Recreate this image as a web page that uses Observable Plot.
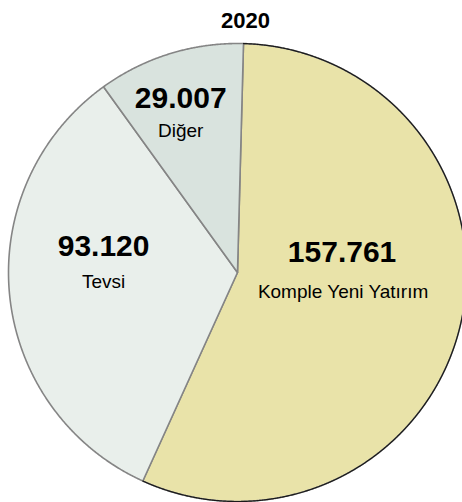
<!DOCTYPE html>
<html>
<head>
<meta charset="utf-8">
<script src="https://cdn.jsdelivr.net/npm/d3@7"></script>
<script src="https://cdn.jsdelivr.net/npm/@observablehq/plot@0.6"></script>
<style>
  html, body { margin: 0; padding: 0; background: white; }
</style>
</head>
<body>
<div id="chart"></div>
<script>
// ---- data ----
const title = "2020";
const categories = ["Komple Yeni Yatırım", "Tevsi", "Diğer"];
const values = [157761, 93120, 29007];
const valueLabels = ["157.761", "93.120", "29.007"];

// ---- styles / layout ----
const colors = ["#e9e3a9", "#e9efeb", "#d9e3de"];
const font = "'Liberation Sans', Arial, Helvetica, sans-serif";
const W = 462, H = 502, R = 229, CX = 237, CY = 272;
const startDeg = 1.5;
// label nudges (px) from slice centroid at half radius
const nudges = [
  {vdx: -7, vdy: -36, ndx: -6, ndy: 0},
  {vdx: -20, vdy: -28, ndx: -20, ndy: 4},
  {vdx: -23, vdy: -55, ndx: -23, ndy: -26}
];

const start = startDeg * Math.PI / 180;
const arcs = d3.pie().sort(null).startAngle(start).endAngle(start + 2 * Math.PI)(values);

function arcPoints(a0, a1) {
  const pts = [];
  const n = Math.max(2, Math.ceil((a1 - a0) / 0.004));
  for (let i = 0; i <= n; i++) {
    const a = a0 + (a1 - a0) * i / n;
    pts.push({x: Math.sin(a), y: Math.cos(a)});
  }
  return pts;
}

const marks = [];
arcs.forEach((arc, i) => {
  const poly = [{x: 0, y: 0}, ...arcPoints(arc.startAngle, arc.endAngle), {x: 0, y: 0}];
  marks.push(Plot.line(poly, {
    x: "x", y: "y", fill: colors[i], stroke: "#858585", strokeWidth: 1.6,
    strokeLinejoin: "round", curve: "linear", clip: true
  }));
});
// dark outline on the outer arc of the largest slice
marks.push(Plot.line(arcPoints(arcs[0].startAngle, arcs[0].endAngle), {
  x: "x", y: "y", stroke: "#1a1a1a", strokeWidth: 1.2, curve: "linear", clip: true
}));

arcs.forEach((arc, i) => {
  const mid = (arc.startAngle + arc.endAngle) / 2;
  const c = [{x: 0.5 * Math.sin(mid), y: 0.5 * Math.cos(mid)}];
  const nd = nudges[i];
  marks.push(Plot.text(c, {
    x: "x", y: "y", text: () => valueLabels[i], dx: nd.vdx, dy: nd.vdy,
    lineAnchor: "bottom", textAnchor: "middle", fontSize: 30, fontWeight: "bold", fill: "black"
  }));
  marks.push(Plot.text(c, {
    x: "x", y: "y", text: () => categories[i], dx: nd.ndx, dy: nd.ndy,
    lineAnchor: "bottom", textAnchor: "middle", fontSize: 19, fill: "black"
  }));
});

marks.push(Plot.text([title], {
  text: d => d, frameAnchor: "top", dx: 14, dy: 27, lineAnchor: "bottom",
  fontSize: 22, fontWeight: "bold", fill: "black"
}));

const chart = Plot.plot({
  width: W, height: H,
  marginTop: 0, marginRight: 0, marginBottom: 0, marginLeft: 0,
  x: {axis: null, domain: [-CX / R, (W - CX) / R]},
  y: {axis: null, domain: [-(H - CY) / R, CY / R]},
  style: {fontFamily: font, background: "white", overflow: "hidden"},
  marks
});
document.getElementById("chart").appendChild(chart);
</script>
</body>
</html>
